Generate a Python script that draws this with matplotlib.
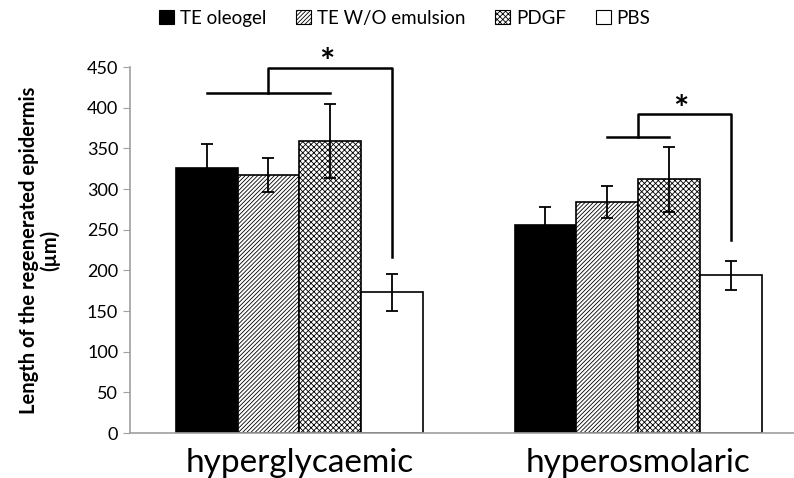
import matplotlib
matplotlib.use("Agg")
import matplotlib.pyplot as plt
from matplotlib.patches import Patch
import numpy as np

plt.rcParams['font.family'] = ['Lato', 'DejaVu Sans']
plt.rcParams['hatch.linewidth'] = 0.6

# data
groups = ['hyperglycaemic', 'hyperosmolaric']
series = ['TE oleogel', 'TE W/O emulsion', 'PDGF', 'PBS']
means = {
    'TE oleogel': [326, 256],
    'TE W/O emulsion': [317, 284],
    'PDGF': [359, 312],
    'PBS': [173, 194],
}
errors = {
    'TE oleogel': [29, 22],
    'TE W/O emulsion': [21, 20],
    'PDGF': [45, 40],
    'PBS': [23, 18],
}
# significance brackets: (low line y, top line y, right leg end y)
brackets = [(418, 449, 216), (364, 392, 237)]

styles = {
    'TE oleogel': dict(color='black', hatch=None),
    'TE W/O emulsion': dict(color='white', hatch='////////'),
    'PDGF': dict(color='white', hatch='xxxxxx'),
    'PBS': dict(color='white', hatch=None),
}

fig = plt.figure(figsize=(7.94, 4.78), dpi=100)
ax = fig.add_axes([130 / 794, 45 / 478, 664 / 794, 366 / 478])

width = 0.1824
x = np.arange(len(groups))
offsets = (np.arange(len(series)) - 1.5) * width

for i, s in enumerate(series):
    st = styles[s]
    ax.bar(x + offsets[i], means[s], width, color=st['color'], hatch=st['hatch'],
           edgecolor='black', linewidth=1.2, zorder=2)
    ax.errorbar(x + offsets[i], means[s], yerr=errors[s], fmt='none',
                ecolor='black', elinewidth=1.3, capsize=4, capthick=1.3, zorder=3)

# significance brackets
for g, (y_low, y_top, y_end) in enumerate(brackets):
    if g == 0:
        low_left, low_right = x[g] + offsets[0], x[g] + offsets[2]
        stem = x[g] + offsets[1]
    else:
        low_left, low_right = x[g] + offsets[1], x[g] + offsets[2]
        stem = x[g]
    right = x[g] + offsets[3]
    kw = dict(color='black', linewidth=1.8, clip_on=False, zorder=4)
    ax.plot([low_left, low_right], [y_low, y_low], **kw)
    ax.plot([stem, stem, right, right], [y_low, y_top, y_top, y_end], **kw)
    ax.text((stem + right) / 2 - 0.01, y_top + 5, '*', ha='center', va='center',
            fontsize=26, fontweight='bold')

ax.set_xlim(-0.5, 1.46)
ax.set_ylim(0, 450)
ax.set_yticks(range(0, 451, 50))
ax.set_xticks(x)
ax.set_xticklabels(groups, fontsize=24)
ax.tick_params(axis='x', length=0, pad=11)
ax.tick_params(axis='y', labelsize=13, length=5, color='#a0a0a0', direction='out')

for side in ['top', 'right']:
    ax.spines[side].set_visible(False)
for side in ['left', 'bottom']:
    ax.spines[side].set_color('#a0a0a0')
    ax.spines[side].set_linewidth(1.2)

ax.set_ylabel('Length of the regenerated epidermis\n(µm)', fontsize=14.5,
              fontweight='bold', linespacing=1.05)
ax.yaxis.set_label_coords(-0.105, 0.5)

handles = [Patch(facecolor=styles[s]['color'], hatch=styles[s]['hatch'],
                 edgecolor='black', linewidth=0.8) for s in series]
fig.legend(handles, series, loc='upper center', bbox_to_anchor=(0.51, 1.015),
           ncol=4, frameon=False, fontsize=13.5, handlelength=0.8,
           handleheight=0.8, handletextpad=0.3, columnspacing=1.6)

fig.savefig('out.png', dpi=100)
